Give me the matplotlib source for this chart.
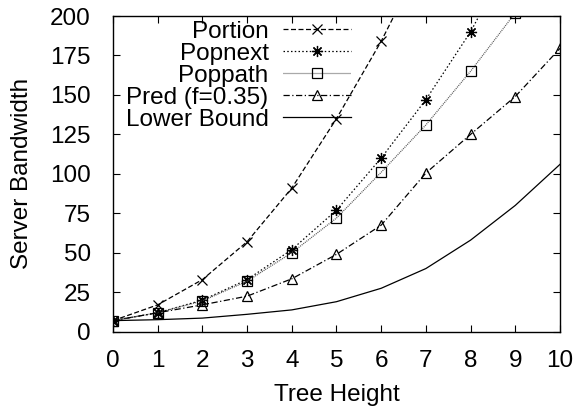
import matplotlib
matplotlib.use("Agg")
import matplotlib.pyplot as plt
import numpy as np

plt.rcParams['font.family'] = ['Liberation Sans', 'DejaVu Sans']

# values
height = np.arange(0, 11)
portion = [7, 17, 33, 57, 91, 135, 184, 240]
popnext = [7, 12, 20, 33, 52, 77, 110, 147, 190, 243]
poppath = [7, 12, 19.5, 32, 50, 72, 101, 131, 165, 202, 245]
pred = [7, 12, 17, 22.5, 33.5, 49, 67.5, 100.5, 125, 149, 179.5]
lower = [7, 7.6, 8.6, 11, 13.8, 19, 27.5, 40, 58, 80, 106]

labels = ['Portion', 'Popnext', 'Poppath', 'Pred (f=0.35)', 'Lower Bound']

fs = 17.5

fig = plt.figure(figsize=(5.85, 4.11), dpi=100)
ax = fig.add_axes([0.1932, 0.193, 0.764, 0.768])

lw = 0.9
ax.plot(height[:len(portion)], portion, color='black', lw=lw, ls=(0, (4, 2)),
        marker='x', ms=7, mew=0.9, label=labels[0])
ax.plot(height[:len(popnext)], popnext, color='black', lw=lw, ls=(0, (1.2, 1.8)),
        marker=(8, 2, 0), ms=8, mew=0.9, label=labels[1])
ax.plot(height, poppath, color='#555555', lw=lw, ls=(0, (0.8, 0.8)),
        marker='s', ms=6.5, mew=0.9, mfc='none', mec='black', label=labels[2])
ax.plot(height, pred, color='black', lw=lw, ls=(0, (5, 2, 1, 2)),
        marker='^', ms=6.5, mew=0.9, mfc='none', label=labels[3])
ax.plot(height, lower, color='black', lw=lw, ls='-', label=labels[4])

ax.set_xlim(0, 10)
ax.set_ylim(0, 200)
ax.set_xticks(range(0, 11))
ax.set_yticks(range(0, 201, 25))
ax.tick_params(direction='in', length=5, width=0.8, top=True, right=True,
               labelsize=fs)
ax.tick_params(axis='x', pad=13)
ax.tick_params(axis='y', pad=16)
for s in ax.spines.values():
    s.set_linewidth(1.0)

ax.set_xlabel('Tree Height', fontsize=fs, labelpad=9)
ax.set_ylabel('Server Bandwidth', fontsize=fs, labelpad=12)

leg = ax.legend(loc='upper right', bbox_to_anchor=(0.533, 0.985), frameon=False,
                markerfirst=False, fontsize=fs, handlelength=2.8,
                handletextpad=0.6, labelspacing=0.0, borderpad=0,
                borderaxespad=0)
# right-align entries like gnuplot's key
for col in leg._legend_handle_box.get_children():
    col.align = 'right'

fig.savefig('out.png', dpi=100)
